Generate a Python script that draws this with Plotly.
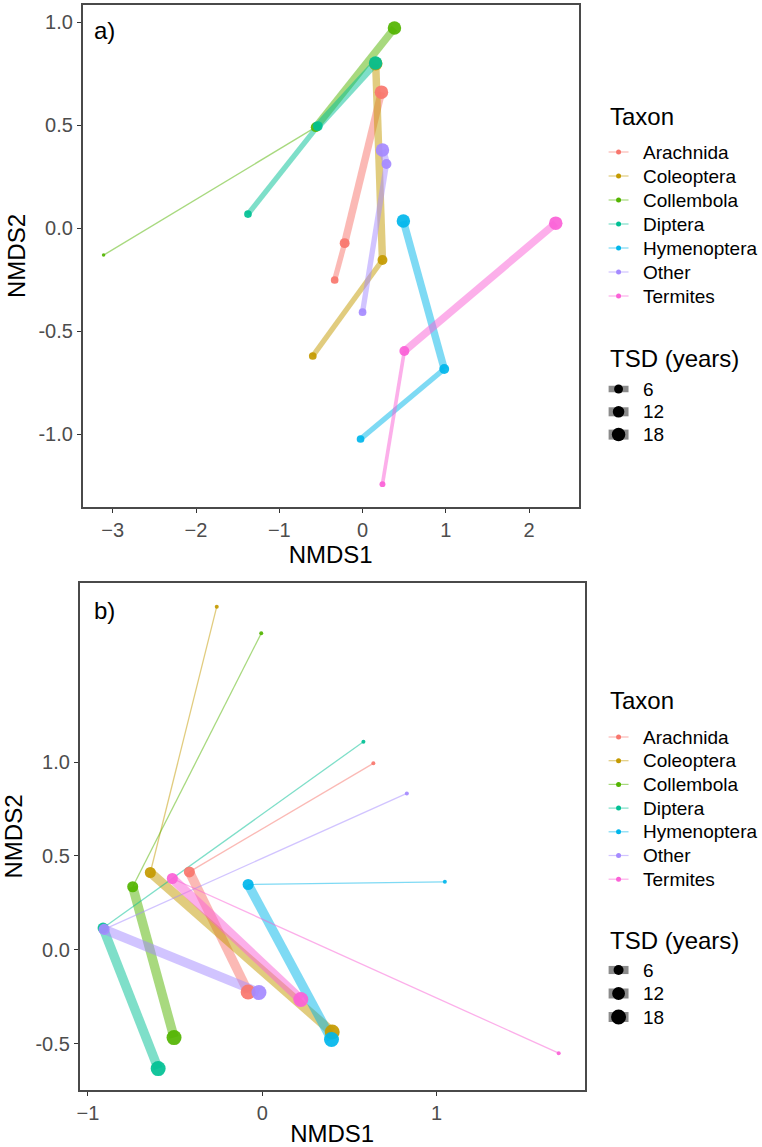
import math
import plotly.graph_objects as go

# ---------------- data ----------------
taxa = ["Arachnida", "Coleoptera", "Collembola", "Diptera", "Hymenoptera", "Other", "Termites"]
tsd_breaks = [6, 12, 18]

# panel a) : one row per taxon, points in path order
a_nmds1 = [[-0.335, -0.215, 0.227],
           [-0.598, 0.239, 0.158],
           [-3.110, -0.562, 0.383],
           [-1.376, -0.538, 0.156],
           [-0.024, 0.981, 0.490],
           [0.000, 0.287, 0.239],
           [0.239, 0.502, 2.320]]
a_nmds2 = [[-0.252, -0.073, 0.660],
           [-0.621, -0.155, 0.798],
           [-0.131, 0.490, 0.971],
           [0.068, 0.495, 0.801],
           [-1.024, -0.684, 0.034],
           [-0.408, 0.311, 0.379],
           [-1.243, -0.597, 0.024]]
a_tsd = [[4, 8, 18],
         [4, 8, 18],
         [1, 8, 18],
         [4, 8, 18],
         [4, 8, 18],
         [4, 8, 18],
         [2, 8, 18]]

# panel b)
b_nmds1 = [[0.637, -0.418, -0.081],
           [-0.261, -0.642, 0.401],
           [-0.006, -0.743, -0.506],
           [0.580, -0.913, -0.597],
           [1.047, -0.081, 0.397],
           [0.829, -0.907, -0.019],
           [1.700, -0.516, 0.221]]
b_nmds2 = [[0.993, 0.415, -0.224],
           [1.827, 0.412, -0.437],
           [1.685, 0.336, -0.467],
           [1.108, 0.116, -0.632],
           [0.362, 0.348, -0.477],
           [0.833, 0.109, -0.227],
           [-0.550, 0.380, -0.264]]
b_tsd = [[1, 8, 18]] * 7

# ---------------- style ----------------
W, H = 762, 1147
colors = ["#F8766D", "#C49A00", "#53B400", "#00C094", "#00B6EB", "#A58AFF", "#FB61D7"]
FONT = "Liberation Sans, Arial, sans-serif"
TICK_COL = "#4D4D4D"
FRAME = "#4a4a4a"
TSD_MIN, TSD_MAX = 1, 18


def frac(t):
    return math.sqrt(max(t - TSD_MIN, 0) / (TSD_MAX - TSD_MIN))


def dot_size(t, p):
    return p["dmin"] + (p["dmax"] - p["dmin"]) * frac(t)


def line_w(t, p):
    return p["wmin"] + p["wk"] * frac(t)


panels = [
    dict(xs=a_nmds1, ys=a_nmds2, ts=a_tsd, xa="x", ya="y", dmin=3.5, dmax=13.5, wmin=1.3, wk=9.6),
    dict(xs=b_nmds1, ys=b_nmds2, ts=b_tsd, xa="x2", ya="y2", dmin=4.0, dmax=15.0, wmin=1.3, wk=12.6),
]

fig = go.Figure()

for p in panels:
    # paths first (ggplot draws geom_path below geom_point)
    for k, name in enumerate(taxa):
        xs, ys, ts = p["xs"][k], p["ys"][k], p["ts"][k]
        for i in range(len(xs) - 1):
            fig.add_trace(go.Scatter(
                x=[xs[i], xs[i + 1]], y=[ys[i], ys[i + 1]], mode="lines",
                line=dict(color=colors[k], width=line_w(ts[i], p)),
                opacity=0.5, xaxis=p["xa"], yaxis=p["ya"], showlegend=False,
                hoverinfo="skip"))
    for k, name in enumerate(taxa):
        xs, ys, ts = p["xs"][k], p["ys"][k], p["ts"][k]
        fig.add_trace(go.Scatter(
            x=xs, y=ys, mode="markers", name=name,
            marker=dict(color=colors[k], size=[dot_size(t, p) for t in ts],
                        line=dict(width=0), opacity=0.92),
            xaxis=p["xa"], yaxis=p["ya"], showlegend=False))


def px2x(px):
    return px / W


def px2y(py):
    return 1 - py / H


axis_common = dict(showline=True, mirror=True, linecolor=FRAME, linewidth=1.6,
                   showgrid=False, zeroline=False, ticks="outside", ticklen=4,
                   tickcolor="#333333", tickwidth=1,
                   tickfont=dict(family=FONT, size=20, color=TICK_COL))
title_font = dict(family=FONT, size=24, color="black")

fig.update_layout(
    width=W, height=H, margin=dict(l=0, r=0, t=0, b=0),
    paper_bgcolor="white", plot_bgcolor="white", showlegend=False,
    xaxis=dict(domain=[px2x(80), px2x(578)], range=[-3.361, 2.596], anchor="y",
               tickvals=[-3, -2, -1, 0, 1, 2],
               title=dict(text="NMDS1", font=title_font, standoff=4), **axis_common),
    yaxis=dict(domain=[px2y(507), px2y(5)], range=[-1.354, 1.083], anchor="x",
               tickvals=[-1.0, -0.5, 0.0, 0.5, 1.0], ticktext=["-1.0", "-0.5", "0.0", "0.5", "1.0"],
               title=dict(text="NMDS2", font=title_font, standoff=6), **axis_common),
    xaxis2=dict(domain=[px2x(77), px2x(584)], range=[-1.047, 1.849], anchor="y2",
                tickvals=[-1, 0, 1],
                title=dict(text="NMDS1", font=title_font, standoff=4), **axis_common),
    yaxis2=dict(domain=[px2y(1090), px2y(583)], range=[-0.746, 1.953], anchor="x2",
                tickvals=[-0.5, 0.0, 0.5, 1.0], ticktext=["-0.5", "0.0", "0.5", "1.0"],
                title=dict(text="NMDS2", font=title_font, standoff=6), **axis_common),
)

annotations = []
shapes = []

# panel tags
for txt, y in (("a)", 31), ("b)", 610)):
    annotations.append(dict(text=txt, x=px2x(89), y=px2y(y), xref="paper", yref="paper",
                            xanchor="left", yanchor="middle", showarrow=False,
                            font=dict(family=FONT, size=24, color="black")))

# manual ggplot-like legends
legend_layouts = [
    dict(title_y=116, item_y0=152, step=24.0, tsd_title_y=359, tsd_y0=389, tsd_step=22.8, p=panels[0]),
    dict(title_y=700, item_y0=737, step=23.7, tsd_title_y=940, tsd_y0=970, tsd_step=23.5, p=panels[1]),
]
KEY_L, KEY_R, KEY_C, TXT_X = 608, 628, 618, 641

for L in legend_layouts:
    p = L["p"]
    annotations.append(dict(text="Taxon", x=px2x(KEY_L - 1), y=px2y(L["title_y"]), xref="paper", yref="paper",
                            xanchor="left", yanchor="middle", showarrow=False,
                            font=dict(family=FONT, size=24, color="black")))
    for k, name in enumerate(taxa):
        yy = L["item_y0"] + k * L["step"]
        shapes.append(dict(type="line", xref="paper", yref="paper",
                           x0=px2x(KEY_L), x1=px2x(KEY_R), y0=px2y(yy), y1=px2y(yy),
                           line=dict(color=colors[k], width=1.2), opacity=0.5))
        r = 2.5
        shapes.append(dict(type="circle", xref="paper", yref="paper", xsizemode="pixel", ysizemode="pixel",
                           xanchor=px2x(KEY_C), yanchor=px2y(yy), x0=-r, x1=r, y0=-r, y1=r,
                           fillcolor=colors[k], line=dict(width=0)))
        annotations.append(dict(text=name, x=px2x(TXT_X), y=px2y(yy), xref="paper", yref="paper",
                                xanchor="left", yanchor="middle", showarrow=False,
                                font=dict(family=FONT, size=19, color="black")))
    annotations.append(dict(text="TSD (years)", x=px2x(KEY_L - 1), y=px2y(L["tsd_title_y"]), xref="paper",
                            yref="paper", xanchor="left", yanchor="middle", showarrow=False,
                            font=dict(family=FONT, size=24, color="black")))
    for j, t in enumerate(tsd_breaks):
        yy = L["tsd_y0"] + j * L["tsd_step"]
        w = min(line_w(t, p), 10)
        shapes.append(dict(type="line", xref="paper", yref="paper",
                           x0=px2x(KEY_L), x1=px2x(KEY_R), y0=px2y(yy), y1=px2y(yy),
                           line=dict(color="black", width=w), opacity=0.45))
        r = dot_size(t, p) / 2
        shapes.append(dict(type="circle", xref="paper", yref="paper", xsizemode="pixel", ysizemode="pixel",
                           xanchor=px2x(KEY_C), yanchor=px2y(yy), x0=-r, x1=r, y0=-r, y1=r,
                           fillcolor="black", line=dict(width=0)))
        annotations.append(dict(text=str(t), x=px2x(TXT_X), y=px2y(yy), xref="paper", yref="paper",
                                xanchor="left", yanchor="middle", showarrow=False,
                                font=dict(family=FONT, size=19, color="black")))

fig.update_layout(annotations=annotations, shapes=shapes)

fig.write_html("out.html", config={"displayModeBar": False},
               post_script="document.body.style.margin='0';document.body.style.overflow='hidden';")
